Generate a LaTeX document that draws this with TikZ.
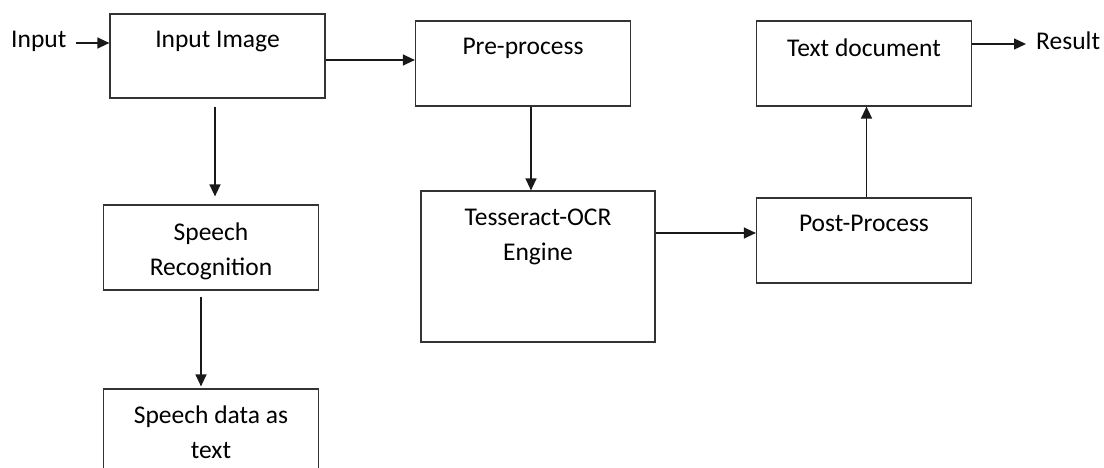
\documentclass[tikz,border=0pt]{standalone}
\usepackage{fontspec}
\setmainfont{Carlito}
\usetikzlibrary{arrows.meta, positioning}

\tikzset{
    box/.style={draw=black!80, line width=1.2pt, rectangle, inner sep=0pt},
    boxtxt/.style={anchor=north, inner sep=0pt, align=center, font=\fontsize{25.5}{35}\selectfont},
    lbl/.style={inner sep=0pt, font=\fontsize{25.5}{35}\selectfont},
    arr/.style={-{Triangle[length=12pt,width=11pt]}, line width=1.3pt, draw=black!90}
}

\begin{document}
\begin{tikzpicture}[x=1pt, y=-1pt]
    \path[use as bounding box, clip] (0,0) rectangle (1104,468);

    \node[box, minimum width=215pt, minimum height=84pt] (inimg) at (217.5,56) {};
    \node[box, minimum width=215pt, minimum height=85pt] (preproc) at (523,63.5) {};
    \node[box, minimum width=215pt, minimum height=85pt] (textdoc) at (864,63.5) {};
    \node[box, minimum width=215pt, minimum height=85pt] (speechrec) at (211,247.5) {};
    \node[box, minimum width=234pt, minimum height=151pt] (tess) at (538,266.5) {};
    \node[box, minimum width=215pt, minimum height=85pt] (postproc) at (864,240.5) {};
    \node[box, minimum width=215pt, minimum height=100pt] (speechtxt) at (211,439) {};

    \node[boxtxt] (inimgtxt) at ([yshift=-18pt]inimg.north) {Input Image};
    \node[boxtxt] (preproctxt) at ([yshift=-18pt]preproc.north) {Pre-process};
    \node[boxtxt] (textdoctxt) at ([yshift=-18pt]textdoc.north) {Text document};
    \node[boxtxt] (speechrectxt) at ([yshift=-18pt]speechrec.north) {Speech\\Recognition};
    \node[boxtxt] (tesstxt) at ([yshift=-18pt]tess.north) {Tesseract-OCR\\Engine};
    \node[boxtxt] (postproctxt) at ([yshift=-18pt]postproc.north) {Post-Process};
    \node[boxtxt] (speechtxttxt) at ([yshift=-17pt]speechtxt.north) {Speech data as\\text};

    \node[lbl, anchor=west] (inlbl) at (11,41) {Input};
    \node[lbl, anchor=west] (result) at (1036,41) {Result};

    \coordinate (inend) at (inimg.west |- 0,43);
    \draw[arr] ([xshift=9pt]inlbl.east |- inend) -- (inend);
    \draw[arr] ([yshift=-4pt]inimg.east) -- ([yshift=3.5pt]preproc.west);
    \draw[arr] ([xshift=-2.5pt,yshift=-8pt]inimg.south) -- ([xshift=4pt,yshift=8pt]speechrec.north);
    \draw[arr] ([xshift=-10pt,yshift=-6pt]speechrec.south) -- ([xshift=-10pt,yshift=2pt]speechtxt.north);
    \draw[arr] ([xshift=8pt]preproc.south) -- ([xshift=-7pt]tess.north);
    \draw[arr] ([yshift=33.5pt]tess.east) -- ([yshift=7.5pt]postproc.west);
    \draw[arr] ([xshift=2.5pt]postproc.north) -- ([xshift=2.5pt]textdoc.south);
    \draw[arr] ([yshift=19.5pt]textdoc.east) -- ([xshift=-10pt,yshift=-3pt]result.west);
\end{tikzpicture}
\end{document}
